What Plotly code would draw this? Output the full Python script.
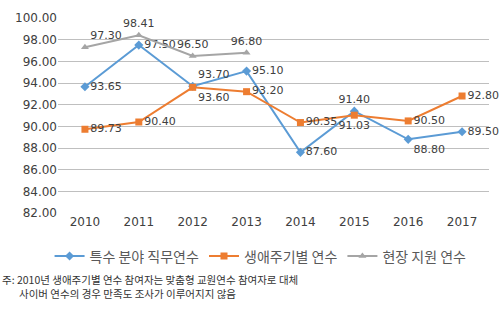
import plotly.graph_objects as go

years = ["2010", "2011", "2012", "2013", "2014", "2015", "2016", "2017"]
special = [93.65, 97.50, 93.70, 95.10, 87.60, 91.40, 88.80, 89.50]
lifecycle = [89.73, 90.40, 93.60, 93.20, 90.35, 91.03, 90.50, 92.80]
field_years = ["2010", "2011", "2012", "2013"]
field = [97.30, 98.41, 96.50, 96.80]
y_ticks = [82, 84, 86, 88, 90, 92, 94, 96, 98, 100]

names = ["특수 분야 직무연수", "생애주기별 연수", "현장 지원 연수"]
notes = ["주: 2010년 생애주기별 연수 참여자는 맞춤형 교원연수 참여자로 대체",
         "사이버 연수의 경우 만족도 조사가 이루어지지 않음"]

blue, orange, gray = "#5B9BD5", "#ED7D31", "#A5A5A5"
lab_font = dict(family="DejaVu Sans", size=11, color="#404040")

pos_special = ["middle right", "middle right", "top right", "middle right",
               "middle right", "top center", "bottom right", "middle right"]
pos_life = ["middle right", "middle right", "bottom right", "middle right",
            "middle right", "bottom center", "middle right", "middle right"]
pos_field = ["top right", "top center", "top center", "top center"]

fig = go.Figure()
fig.add_trace(go.Scatter(x=years, y=special, name=names[0], mode="lines+markers+text",
                         line=dict(color=blue, width=2),
                         marker=dict(symbol="diamond", size=7, color=blue),
                         text=[f"{v:.2f}" for v in special], textposition=pos_special,
                         textfont=lab_font, cliponaxis=False))
fig.add_trace(go.Scatter(x=years, y=lifecycle, name=names[1], mode="lines+markers+text",
                         line=dict(color=orange, width=2),
                         marker=dict(symbol="square", size=7, color=orange),
                         text=[f"{v:.2f}" for v in lifecycle], textposition=pos_life,
                         textfont=lab_font, cliponaxis=False))
fig.add_trace(go.Scatter(x=field_years, y=field, name=names[2], mode="lines+markers+text",
                         line=dict(color=gray, width=2),
                         marker=dict(symbol="triangle-up", size=7, color=gray),
                         text=[f"{v:.2f}" for v in field], textposition=pos_field,
                         textfont=lab_font, cliponaxis=False))

ann = []
ann.append(dict(text=notes[0], xref="paper", yref="paper", x=-58/431, y=(213-282)/202,
                xanchor="left", yanchor="middle", showarrow=False,
                font=dict(family="Noto Sans CJK KR", size=10.5, color="#333333")))
ann.append(dict(text=notes[1], xref="paper", yref="paper", x=-41/431, y=(213-296)/202,
                xanchor="left", yanchor="middle", showarrow=False,
                font=dict(family="Noto Sans CJK KR", size=10.5, color="#333333")))

fig.update_layout(
    width=503, height=311, margin=dict(l=58, r=14, t=11, b=98),
    plot_bgcolor="white", paper_bgcolor="white",
    showlegend=True,
    legend=dict(orientation="h", x=0.47, xanchor="center", y=(213-258)/202, yanchor="middle",
                font=dict(family="Noto Sans CJK KR", size=14, color="#595959"),
                itemwidth=30, traceorder="normal"),
    xaxis=dict(type="category", range=[-0.5, 7.5], categoryarray=years, showgrid=False,
               showline=False, ticks="", tickfont=dict(family="DejaVu Sans", size=12, color="#404040")),
    yaxis=dict(range=[82, 100], tickvals=y_ticks, tickformat=".2f", showgrid=True,
               gridcolor="#BFBFBF", gridwidth=1, zeroline=False, showline=False, ticks="",
               tickfont=dict(family="DejaVu Sans", size=12, color="#404040")),
    annotations=ann,
)
fig.write_html("out.html")
